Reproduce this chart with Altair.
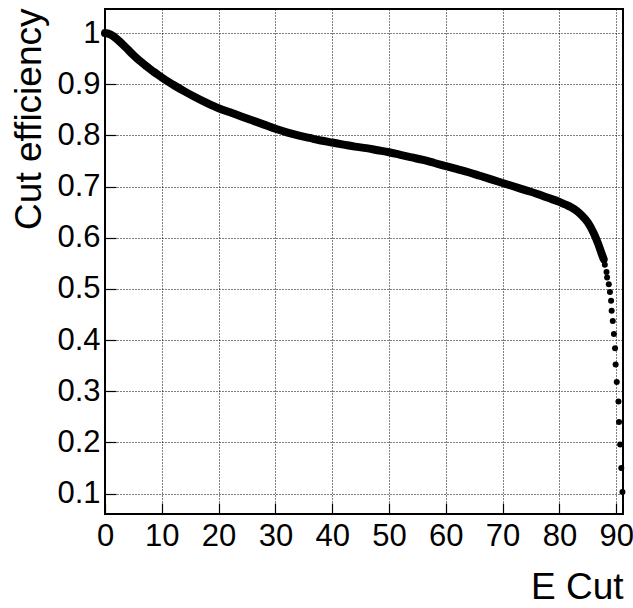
import altair as alt
import pandas as pd

# Data
e_cut = [0, 1, 2, 3, 4, 5, 6, 7, 8, 9, 10, 12, 14, 16, 18, 20, 22, 24, 26, 28,
         30, 32, 34, 36, 38, 40, 42, 44, 46, 48, 50, 52, 54, 56, 58, 60, 62, 64,
         66, 68, 70, 72, 74, 76, 78, 80, 81, 82, 83, 84, 85, 86, 86.8, 87.4, 87.8,
         88.0, 88.3, 88.4, 88.7, 88.9, 89.1, 89.2, 89.4, 89.6, 89.8, 89.9, 90.1,
         90.4, 90.5, 90.7, 90.9, 91.1]
efficiency = [1.000, 0.997, 0.989, 0.979, 0.968, 0.957, 0.947, 0.938, 0.929, 0.921,
              0.913, 0.899, 0.886, 0.874, 0.863, 0.853, 0.845, 0.837, 0.829, 0.821,
              0.813, 0.806, 0.800, 0.795, 0.790, 0.786, 0.782, 0.778, 0.775, 0.771,
              0.767, 0.762, 0.757, 0.752, 0.746, 0.740, 0.734, 0.728, 0.721, 0.714,
              0.707, 0.700, 0.693, 0.686, 0.678, 0.670, 0.665, 0.660, 0.653, 0.643,
              0.630, 0.610, 0.589, 0.570, 0.558,
              0.547, 0.533, 0.522, 0.509, 0.494, 0.477, 0.457, 0.437, 0.412, 0.384,
              0.352, 0.318, 0.280, 0.240, 0.196, 0.150, 0.103]

# Tick positions
x_major = [0, 10, 20, 30, 40, 50, 60, 70, 80, 90]
y_major = [round(0.1 * i, 2) for i in range(1, 11)]

df = pd.DataFrame({"x": e_cut, "y": efficiency})

W, H = 518, 505
FONT = "Liberation Sans"
X0, X1 = 0.0, 91.2
Y0, Y1 = 0.06, 1.047

xs = alt.Scale(domain=[X0, X1], nice=False, zero=False)
ys = alt.Scale(domain=[Y0, Y1], nice=False, zero=False)

x_axis = alt.Axis(
    orient="bottom", values=x_major, ticks=True, tickSize={"expr": "-11"},
    tickColor="black", tickWidth=1.2, domain=False,
    grid=True, gridColor="black", gridDash=[1, 2], gridWidth=1, gridOpacity=1,
    labelFont=FONT, labelFontSize=31, labelColor="black", labelPadding=18,
    labelFlush=False, title="E Cut", titleFont=FONT, titleFontSize=37,
    titleFontWeight="normal", titleColor="black", titleAnchor="end",
    titleAlign="right", titleX=W, titleY=84, titleBaseline="alphabetic")
y_axis = alt.Axis(
    orient="left", values=y_major, format=".1~f", ticks=True,
    tickSize={"expr": "-11"}, tickColor="black", tickWidth=1.2, domain=False,
    grid=True, gridColor="black", gridDash=[1, 2], gridWidth=1, gridOpacity=1,
    labelFont=FONT, labelFontSize=31, labelColor="black", labelPadding=16,
    labelFlush=False, title="Cut efficiency", titleFont=FONT, titleFontSize=37,
    titleFontWeight="normal", titleColor="black", titleAnchor="end",
    titleAngle=270, titleAlign="right", titleX=-65, titleY=-1,
    titleBaseline="alphabetic")

base = alt.Chart(df)

dots = base.mark_circle(color="black", size=36, opacity=1).encode(
    x=alt.X("x:Q", scale=xs, axis=x_axis),
    y=alt.Y("y:Q", scale=ys, axis=y_axis),
)

main_line = base.transform_filter("datum.x < 87.9").mark_line(
    color="black", strokeWidth=8, strokeCap="round", strokeJoin="round",
    interpolate="monotone"
).encode(
    x=alt.X("x:Q", scale=xs, axis=x_axis),
    y=alt.Y("y:Q", scale=ys, axis=y_axis),
)

chart = alt.layer(dots, main_line).properties(
    width=W, height=H,
    autosize=alt.AutoSizeParams(type="none"),
    padding={"left": 105, "top": 9, "right": 633 - 105 - W, "bottom": 608 - 9 - H},
    background="white",
).configure_view(stroke="black", strokeWidth=2)

chart.save("out.html", embed_options={"renderer": "svg", "actions": False})
